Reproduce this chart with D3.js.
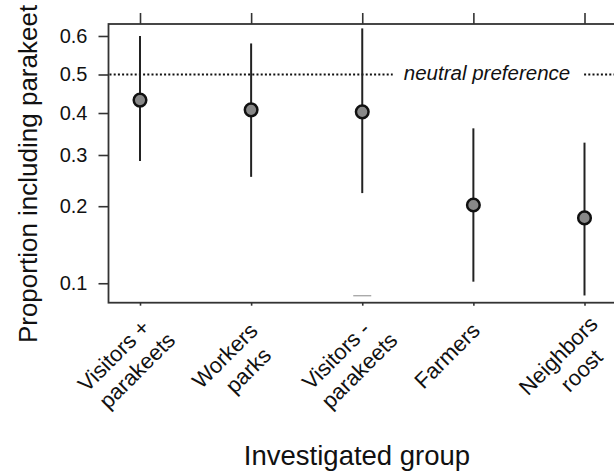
<!DOCTYPE html>
<html>

<head>
  <title>Parakeet preference by group</title>
  <script src="https://cdn.jsdelivr.net/npm/d3@7"></script>
  <style type="text/css">
    body {
      margin: 0;
      background: #fff;
    }

    text {
      font-family: "Liberation Sans", Arial, sans-serif;
      fill: #111;
    }

    .frame {
      fill: none;
      stroke: #333;
      stroke-width: 1.8;
    }

    .tick line {
      stroke: #333;
      stroke-width: 1.6;
    }
  </style>
</head>

<body>
  <div id="chartArea"></div>
  <script type="text/javascript">
    // groups (each label drawn on two lines)
    let groups = ['Visitors + parakeets', 'Workers parks', 'Visitors - parakeets', 'Farmers', 'Neighbors roost'];
    let groupLines = [['Visitors +', 'parakeets'], ['Workers', 'parks'], ['Visitors -', 'parakeets'], ['Farmers'], ['Neighbors', 'roost']];

    // estimated proportion with lower / upper limits
    let estimate = [0.433, 0.408, 0.403, 0.202, 0.181];
    let lower = [0.287, 0.254, 0.223, 0.1015, 0.089];
    let upper = [0.600, 0.581, 0.619, 0.362, 0.328];

    let yTicks = [0.1, 0.2, 0.3, 0.4, 0.5, 0.6];
    let yTickLabels = ['0.1', '0.2', '0.3', '0.4', '0.5', '0.6'];

    let neutral = 0.5;
    let faintMark = { group: 'Visitors - parakeets', value: 0.0888 };

    let w = 614;
    let h = 473;

    // y axis is on the logit scale
    let logit = p => Math.log(p / (1 - p));

    let mLeft = 108.5, mRight = 650, mTop = 24, mBottom = 302.7;

    let xScale = d3.scalePoint()
      .domain(groups)
      .range([140, 584.5]);

    let yScale = d3.scaleLinear()
      .domain([-2.402, 0.5316])
      .range([mBottom, mTop]);

    let svg = d3.select('#chartArea').append('svg')
      .attr('width', w)
      .attr('height', h);

    // ticks
    svg.append('g')
      .attr('transform', `translate(${mLeft},0)`)
      .call(d3.axisLeft(yScale)
        .tickValues(yTicks.map(logit))
        .tickFormat((d, i) => yTickLabels[i])
        .tickSize(10)
        .tickPadding(11))
      .call(g => g.select('.domain').remove())
      .selectAll('text')
      .style('font-size', '20px')
      .attr('fill', '#111');

    svg.append('g')
      .attr('transform', `translate(0,${mTop})`)
      .call(d3.axisTop(xScale).tickSize(11).tickFormat(''))
      .call(g => g.select('.domain').remove());

    svg.append('g')
      .attr('transform', `translate(0,${mBottom})`)
      .call(d3.axisBottom(xScale).tickSize(3).tickFormat(''))
      .call(g => g.select('.domain').remove());

    svg.append('rect')
      .attr('class', 'frame')
      .attr('x', mLeft)
      .attr('y', mTop)
      .attr('width', mRight - mLeft)
      .attr('height', mBottom - mTop);

    // neutral preference line
    let yn = yScale(logit(neutral));
    svg.append('line')
      .attr('x1', mLeft + 1)
      .attr('x2', w)
      .attr('y1', yn)
      .attr('y2', yn)
      .attr('stroke', '#111')
      .attr('stroke-width', 2.2)
      .attr('stroke-dasharray', '2,2.2');

    let lab = svg.append('text')
      .attr('x', 487)
      .attr('y', yn + 5.5)
      .attr('text-anchor', 'middle')
      .style('font-size', '20.5px')
      .style('font-style', 'italic')
      .text('neutral preference');
    let bb = lab.node().getBBox();
    svg.insert('rect', () => lab.node())
      .attr('x', bb.x - 11)
      .attr('y', yn - 3)
      .attr('width', bb.width + 24)
      .attr('height', 6)
      .attr('fill', '#fff');

    // faint mark near the bottom
    svg.append('line')
      .attr('x1', xScale(faintMark.group) - 9)
      .attr('x2', xScale(faintMark.group) + 9)
      .attr('y1', yScale(logit(faintMark.value)))
      .attr('y2', yScale(logit(faintMark.value)))
      .attr('stroke', '#aaa')
      .attr('stroke-width', 1.4);

    // error bars
    svg.selectAll('line.err')
      .data(groups)
      .enter()
      .append('line')
      .attr('class', 'err')
      .attr('x1', d => xScale(d))
      .attr('x2', d => xScale(d))
      .attr('y1', (d, i) => yScale(logit(lower[i])))
      .attr('y2', (d, i) => yScale(logit(upper[i])))
      .attr('stroke', '#222')
      .attr('stroke-width', 2);

    // points
    svg.selectAll('circle')
      .data(groups)
      .enter()
      .append('circle')
      .attr('cx', d => xScale(d))
      .attr('cy', (d, i) => yScale(logit(estimate[i])))
      .attr('r', 6.3)
      .attr('fill', '#888')
      .attr('stroke', '#111')
      .attr('stroke-width', 2.5);

    // group labels, rotated
    let lbl = svg.selectAll('text.group')
      .data(groups)
      .enter()
      .append('text')
      .attr('class', 'group')
      .attr('text-anchor', 'middle')
      .style('font-size', '22px')
      .attr('transform', d => `translate(${xScale(d) - 21},361) rotate(-45)`);

    lbl.selectAll('tspan')
      .data((d, i) => groupLines[i])
      .enter()
      .append('tspan')
      .attr('x', (d, j) => j * 6)
      .attr('y', (d, j) => j * 27)
      .text(d => d);

    // axis titles
    svg.append('text')
      .attr('transform', 'translate(36.5,174) rotate(-90)')
      .attr('text-anchor', 'middle')
      .style('font-size', '26px')
      .text('Proportion including parakeet');

    svg.append('text')
      .attr('x', 357)
      .attr('y', 464.5)
      .attr('text-anchor', 'middle')
      .style('font-size', '27.5px')
      .text('Investigated group');
  </script>
</body>

</html>
